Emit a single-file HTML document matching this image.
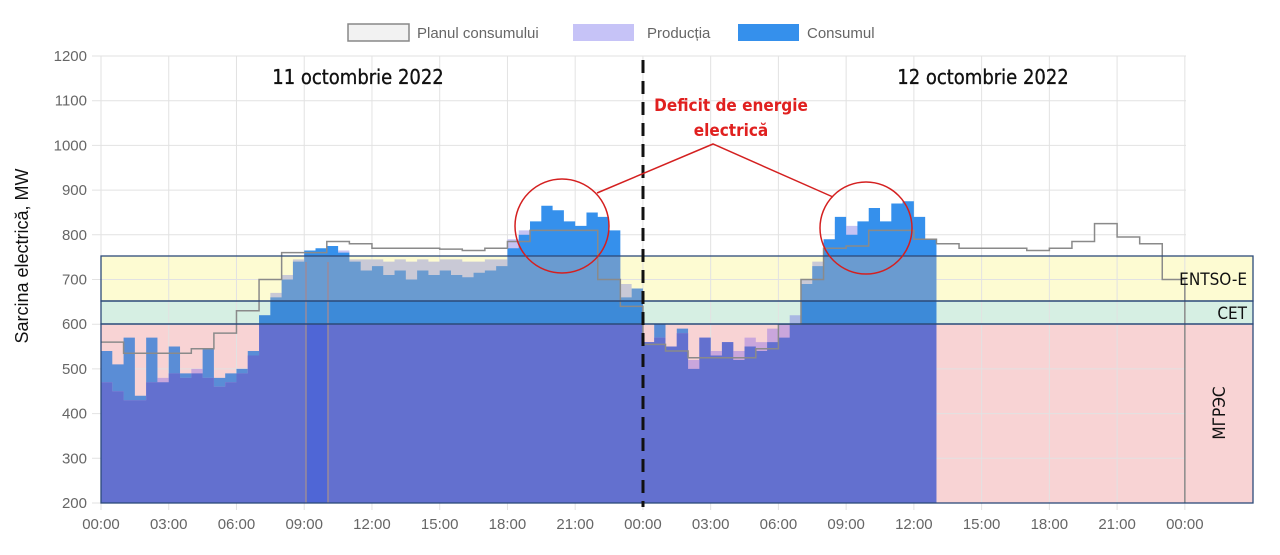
<!DOCTYPE html>
<html><head><meta charset="utf-8"><style>
html,body{margin:0;padding:0;background:#fff;}
svg{display:block;font-family:"Liberation Sans",sans-serif;}
.c{font-family:"DejaVu Sans Condensed","DejaVu Sans",sans-serif;}
</style></head><body>
<svg id="s" width="1280" height="555" viewBox="0 0 1280 555" xmlns="http://www.w3.org/2000/svg">
<defs>
<path id="prod"/>
<path id="cons"/>
<path id="mn"/>
<clipPath id="cTop"><rect x="101" y="0" width="1152" height="256"/></clipPath>
<clipPath id="cY"><rect x="101" y="256" width="1152" height="45"/></clipPath>
<clipPath id="cG"><rect x="101" y="301" width="1152" height="23"/></clipPath>
<clipPath id="cP"><rect x="101" y="324" width="1152" height="179"/></clipPath>
</defs>
<rect x="101" y="256" width="1152" height="45" fill="#fdfbd2"/>
<rect x="101" y="301" width="1152" height="23" fill="#d6efe3"/>
<rect x="101" y="324" width="1152" height="179" fill="#f8d3d4"/>
<g id="grid" stroke="#e2e2e2" stroke-width="1"></g>
<g id="ylab" fill="#666" font-size="15" text-anchor="end"></g>
<g id="xlab" fill="#666" font-size="15" text-anchor="middle"></g>
<g clip-path="url(#cTop)"><use href="#prod" fill="#c6c3f3"/><use href="#cons" fill="#3590ec"/></g>
<g clip-path="url(#cY)"><use href="#prod" fill="#c9c9d6"/><use href="#cons" fill="#6a9bd0"/></g>
<g clip-path="url(#cG)"><use href="#prod" fill="#a9b8e3"/><use href="#cons" fill="#3d8ad8"/></g>
<g clip-path="url(#cP)"><use href="#cons" fill="#5a8dd6"/><use href="#prod" fill="#c9a6dc"/><use href="#mn" fill="#6370cf"/></g>
<rect x="306" y="324" width="22" height="179" fill="#4f66d6"/>
<line x1="306" y1="262" x2="306" y2="503" stroke="#9a8a9a" stroke-width="1.5"/>
<line x1="328" y1="262" x2="328" y2="503" stroke="#9a8a9a" stroke-width="1.5"/>
<path id="plan" fill="none" stroke="#8a8a8a" stroke-width="1.5"/>
<rect x="101" y="256" width="1152" height="45" fill="none" stroke="#2c4a7a" stroke-width="1.3"/>
<rect x="101" y="301" width="1152" height="23" fill="none" stroke="#2c4a7a" stroke-width="1.3"/>
<rect x="101" y="324" width="1152" height="179" fill="none" stroke="#2c4a7a" stroke-width="1.3"/>
<line x1="643" y1="60" x2="643" y2="507" stroke="#111" stroke-width="3" stroke-dasharray="13,8"/>
<text class="c" x="1247" y="285" font-size="17" text-anchor="end" fill="#111">ENTSO-E</text>
<text class="c" x="1247" y="319" font-size="17" text-anchor="end" fill="#111">CET</text>
<text class="c" transform="translate(1225,413) rotate(-90)" font-size="17" text-anchor="middle" fill="#111">МГРЭС</text>
<text class="c" x="358" y="84" font-size="20" text-anchor="middle" fill="#111" stroke="#111" stroke-width="0.3">11 octombrie 2022</text>
<text class="c" x="983" y="84" font-size="20" text-anchor="middle" fill="#111" stroke="#111" stroke-width="0.3">12 octombrie 2022</text>
<text class="c" x="731" y="111" font-size="17" font-weight="bold" text-anchor="middle" fill="#e0201f">Deficit de energie</text>
<text class="c" x="731" y="136" font-size="17" font-weight="bold" text-anchor="middle" fill="#e0201f">electrică</text>
<circle cx="562" cy="226" r="47" fill="none" stroke="#d42020" stroke-width="1.5"/>
<circle cx="866" cy="228" r="46" fill="none" stroke="#d42020" stroke-width="1.5"/>
<polyline points="597,193 713,144 833,197" fill="none" stroke="#d42020" stroke-width="1.5"/>
<text transform="translate(28,256) rotate(-90)" font-size="18" text-anchor="middle" fill="#111">Sarcina electrică, MW</text>
<rect x="348" y="24" width="61" height="17" fill="#f2f2f2" stroke="#888" stroke-width="1.5"/>
<text x="417" y="38" font-size="15" fill="#666">Planul consumului</text>
<rect x="573" y="24" width="61" height="17" fill="#c6c3f7"/>
<text x="647" y="38" font-size="15" fill="#666">Producția</text>
<rect x="738" y="24" width="61" height="17" fill="#3590ec"/>
<text x="807" y="38" font-size="15" fill="#666">Consumul</text>
</svg>
<script>
var X=function(h){return 101+h*22.58};var Y=function(v){return 503-(v-200)*0.447};
var g=document.getElementById('grid'),yl=document.getElementById('ylab'),xl=document.getElementById('xlab');
var s='';
for(var v=200;v<=1200;v+=100){s+='<line x1="92" x2="1186" y1="'+Y(v)+'" y2="'+Y(v)+'"/>';}
for(var h=0;h<=48;h+=3){s+='<line x1="'+X(h)+'" x2="'+X(h)+'" y1="56" y2="510"/>';}
g.innerHTML=s;s='';
for(var v=200;v<=1200;v+=100){s+='<text x="87" y="'+(Y(v)+5)+'">'+v+'</text>';}
yl.innerHTML=s;s='';
var lb=['00:00','03:00','06:00','09:00','12:00','15:00','18:00','21:00'];
for(var i=0;i<=16;i++){s+='<text x="'+X(i*3)+'" y="529">'+lb[i%8]+'</text>';}
xl.innerHTML=s;
function step(arr,dt,start){var p='M'+X(start)+','+Y(200);for(var i=0;i<arr.length;i++){var y=Y(arr[i]);p+=' L'+X(start+i*dt)+','+y+' L'+X(start+(i+1)*dt)+','+y;}p+=' L'+X(start+arr.length*dt)+','+Y(200)+'Z';return p;}
var c1=[540,510,570,440,570,470,550,490,490,545,480,490,500,540,620,660,700,740,765,770,775,760,740,720,730,710,720,700,720,710,720,710,705,715,720,730,770,800,830,865,855,830,820,850,840,810,660,680];
var c2=[560,600,550,590,500,570,530,560,520,550,540,560,570,600,690,730,790,840,800,830,860,830,870,875,840,790];
var p1=[470,450,430,430,470,480,490,480,500,480,460,470,490,530,620,670,710,745,760,768,775,765,745,745,745,740,745,740,745,740,745,745,740,740,745,745,790,810,820,830,820,815,810,800,790,760,690,660];
var p2=[560,570,550,580,520,570,540,560,540,570,560,590,600,620,700,740,780,830,820,820,830,820,830,820,800,785];
var C=c1.concat(c2),P=p1.concat(p2),M=[];for(var i=0;i<C.length;i++)M.push(Math.min(C[i],P[i]));
document.getElementById('cons').setAttribute('d',step(C,0.5,0));
document.getElementById('prod').setAttribute('d',step(P,0.5,0));
document.getElementById('mn').setAttribute('d',step(M,0.5,0));
var pl=[560,535,535,535,545,580,630,700,760,760,785,780,770,770,770,768,765,770,785,810,810,810,700,640,
555,540,525,525,525,545,600,700,770,775,810,810,790,780,770,770,770,765,770,785,825,795,780,700,580];
var d='M'+X(0)+','+Y(pl[0]);for(var i=0;i<48;i++){var y=Y(pl[i]);d+=' L'+X(i)+','+y+' L'+X(i+1)+','+y;}d+=' L'+X(48)+','+Y(200);
document.getElementById('plan').setAttribute('d',d);
</script>
</body></html>
